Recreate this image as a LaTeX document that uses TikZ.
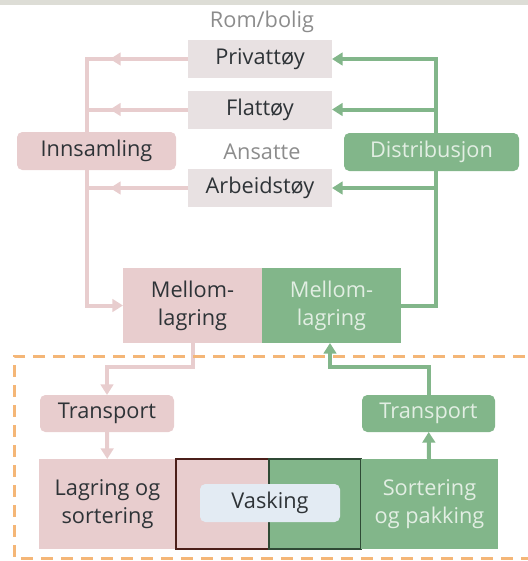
\documentclass[tikz,border=0pt]{standalone}
\usepackage{fontspec}
\setmainfont{Open Sans}
\usepackage{xcolor}
\usepackage{tikz}
\usetikzlibrary{arrows.meta,positioning,decorations.markings}
\definecolor{pinkc}{HTML}{E8CDCE}
\definecolor{grayc}{HTML}{E8E1E2}
\definecolor{greenc}{HTML}{82B68A}
\definecolor{darktxt}{HTML}{2E3337}
\definecolor{lighttxt}{HTML}{E2EEE3}
\definecolor{labeltxt}{HTML}{8C8C8C}
\definecolor{dashc}{HTML}{F4B677}
\definecolor{washc}{HTML}{E3EBF3}
\definecolor{brownc}{HTML}{4B1F1A}
\definecolor{darkgreenc}{HTML}{2F4A35}
\definecolor{bandc}{HTML}{DDDDD6}

\begin{document}
\begin{tikzpicture}[x=0.75pt, y=-0.75pt, font=\fontsize{16.3}{21}\selectfont, >={Triangle[length=8pt,width=9.5pt]}]
\tikzstyle{every node} = [inner sep=0pt, outer sep=0pt, text=darktxt, align=center]
\tikzstyle{place} = [fill=grayc, minimum width=108pt, minimum height=28.5pt]
\tikzstyle{pinkbox} = [fill=pinkc]
\tikzstyle{greenbox} = [fill=greenc, text=lighttxt]
\tikzstyle{pinkln} = [draw=pinkc, line width=3pt]
\tikzstyle{greenln} = [draw=greenc, line width=3pt]
\tikzstyle{midtip} = [postaction={decorate}, decoration={markings, mark=at position 58.5pt with {\arrow{Triangle[length=8pt,width=9.5pt]}}}]
\useasboundingbox (0,0) rectangle (528,561);
\fill[bandc] (0,0) rectangle (528,5);
\node (rom) [text=labeltxt] at (262,22) {Rom/bolig};
\node (priv) [place] at (260,59) {Privattøy};
\node (flat) [place] at (260,109.5) {Flattøy};
\node (ans) [text=labeltxt] at (262,152) {Ansatte};
\node (arb) [place] at (260,188) {Arbeidstøy};
\node (mlp) [pinkbox, minimum width=104.25pt, minimum height=56.25pt] at (192.5,305.5) {Mellom-\\lagring};
\node (mlg) [greenbox, minimum width=104.25pt, minimum height=56.25pt, right=0pt of mlp] {Mellom-\\lagring};
\node (transL) [pinkbox, rounded corners=4pt, minimum width=100.5pt, minimum height=27.75pt] at (107,413.5) {Transport};
\node (lager) [pinkbox, minimum width=102.75pt, minimum height=67.5pt] at (107.5,504) {Lagring og\\sortering};
\node (vaskL) [pinkbox, draw=brownc, line width=1.5pt, minimum width=69.75pt, minimum height=67.5pt, right=0pt of lager] {};
\node (vaskR) [greenbox, draw=darkgreenc, line width=1.5pt, minimum width=69pt, minimum height=67.5pt, right=0pt of vaskL] {};
\node (sort) [greenbox, minimum width=102.75pt, minimum height=67.5pt, right=0pt of vaskR] {Sortering\\og pakking};
\node (vask) [fill=washc, rounded corners=4pt, minimum width=105pt, minimum height=28.5pt] at (270,503) {Vasking};
\node (transR) [greenbox, rounded corners=4pt, minimum width=99.75pt, minimum height=27.75pt] at (428.5,413.5) {Transport};
\coordinate (cL) at (87,0);
\coordinate (cR) at (436,0);
\coordinate (cG) at (330,0);
\coordinate (jL) at (0,367);
\draw[pinkln, midtip, ->] (priv.west) -- (cL |- priv) |- (mlp.west);
\foreach \p in {flat, arb}
\draw[pinkln, midtip] (\p.west) -- (cL |- \p);
\draw[greenln, ->] (mlg.east) -| (cR |- priv) -- (priv.east);
\foreach \p in {flat, arb}
\draw[greenln, ->] (cR |- \p) -- (\p.east);
\draw[pinkln, ->] (mlp.south) |- (jL -| transL) -- (transL.north);
\draw[pinkln, ->] (transL) -- (lager);
\draw[greenln, ->] (sort) -- (transR);
\draw[greenln, ->] (transR.north) |- (jL -| cG) -- (mlg.south -| cG);
\node (inns) [pinkbox, rounded corners=4pt, minimum width=119.25pt, minimum height=28.5pt] at (96.5,151) {Innsamling};
\node (dist) [greenbox, rounded corners=4pt, minimum width=131.25pt, minimum height=28.5pt] at (431.5,152) {Distribusjon};
\draw[dashc, line width=2.25pt, dash pattern=on 9pt off 6pt] (545,356) -- (14,356) -- (14,558) -- (545,558);
\end{tikzpicture}
\end{document}
